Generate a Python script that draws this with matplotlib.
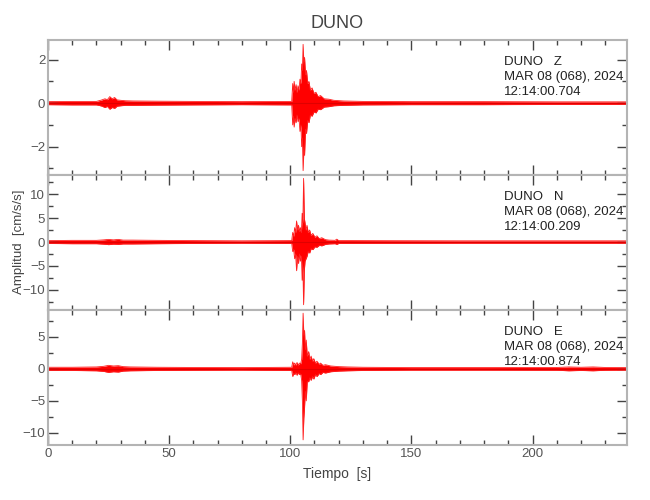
import matplotlib
matplotlib.use("Agg")
import matplotlib.pyplot as plt
from matplotlib.ticker import MultipleLocator

plt.rcParams['font.family'] = ['Liberation Sans', 'DejaVu Sans']

# envelope knots read from the record (time in s, amplitude in cm/s/s)
t_z = [0, 10, 20, 22, 23.5, 24.5, 25.5, 26.5, 27.5, 28.5, 30, 32, 35, 45, 60, 80, 100.6,
       101.0, 101.3, 101.6, 102.0, 102.4, 102.8, 103.2, 103.6, 104.0, 104.4, 104.7, 105.0,
       105.3, 105.6, 105.9, 106.3, 106.7, 107.2, 107.7, 108.3, 109.0, 109.8, 110.6, 111.5,
       112.5, 114, 116, 118, 122, 130, 150, 180, 210, 239]
up_z = [0.07, 0.08, 0.08, 0.14, 0.2, 0.16, 0.3, 0.2, 0.26, 0.15, 0.13, 0.11, 0.1, 0.09, 0.08, 0.07, 0.08,
        0.9, 0.5, 1.0, 0.6, 0.85, 0.5, 0.8, 0.6, 1.1, 0.9, 1.8, 1.5,
        2.7, 1.9, 2.1, 1.3, 1.5, 0.9, 1.0, 0.6, 0.7, 0.45, 0.5, 0.3,
        0.35, 0.2, 0.18, 0.13, 0.1, 0.08, 0.07, 0.07, 0.06, 0.06]
lo_z = [-0.07, -0.08, -0.08, -0.13, -0.2, -0.15, -0.28, -0.2, -0.24, -0.14, -0.12, -0.1, -0.1, -0.09, -0.08, -0.07, -0.08,
        -1.0, -0.6, -1.1, -0.7, -0.9, -0.55, -0.85, -0.7, -1.3, -1.0, -2.0, -1.6,
        -3.1, -2.2, -2.4, -1.2, -1.4, -0.8, -0.9, -0.55, -0.6, -0.4, -0.45, -0.28,
        -0.3, -0.18, -0.16, -0.12, -0.1, -0.08, -0.07, -0.07, -0.06, -0.06]

t_n = [0, 10, 20, 23, 25, 27, 29, 31, 35, 45, 60, 80, 100.6,
       101.0, 101.4, 101.8, 102.2, 102.6, 103.0, 103.4, 103.8, 104.2, 104.6, 104.9,
       105.2, 105.5, 105.8, 106.1, 106.5, 106.9, 107.4, 108.0, 108.6, 109.3, 110.2, 111,
       112, 113, 114.5, 116, 118.5, 119.2, 120, 125, 140, 170, 200, 239]
up_n = [0.3, 0.35, 0.35, 0.45, 0.55, 0.45, 0.55, 0.4, 0.4, 0.35, 0.3, 0.25, 0.3,
        2.0, 1.2, 3.0, 2.0, 4.4, 2.5, 3.5, 2.2, 3.0, 2.0, 6.0,
        4.0, 13.3, 5.0, 4.0, 2.5, 3.5, 2.0, 2.5, 1.4, 1.8, 1.0, 1.3,
        0.7, 0.9, 0.5, 0.4, 0.35, 0.6, 0.3, 0.3, 0.28, 0.25, 0.25, 0.25]
lo_n = [-0.3, -0.35, -0.35, -0.45, -0.55, -0.45, -0.5, -0.4, -0.4, -0.35, -0.3, -0.25, -0.3,
        -2.0, -1.5, -3.5, -2.5, -6.0, -3.0, -4.5, -2.5, -4.0, -3.0, -8.0,
        -5.0, -13.1, -6.0, -4.0, -3.5, -3.0, -2.0, -2.3, -1.4, -1.6, -1.0, -1.1,
        -0.7, -0.8, -0.5, -0.4, -0.35, -0.5, -0.3, -0.3, -0.28, -0.25, -0.25, -0.25]

t_e = [0, 10, 20, 23, 25, 27, 29, 31, 34, 45, 60, 80, 100.6,
       101.0, 101.4, 101.8, 102.3, 102.8, 103.3, 103.8, 104.3, 104.7, 105.0,
       105.3, 105.6, 105.9, 106.2, 106.6, 107.0, 107.6, 108.1, 108.6, 109.2, 109.7, 110.4, 111,
       112, 112.5, 113.5, 114.5, 116.7, 120, 123.6, 130, 150, 180, 210, 215, 220, 225, 230, 239]
up_e = [0.25, 0.25, 0.3, 0.4, 0.55, 0.45, 0.5, 0.35, 0.3, 0.25, 0.22, 0.2, 0.25,
        1.1, 0.6, 0.9, 0.6, 1.0, 0.6, 0.9, 0.8, 1.5, 4.0,
        8.7, 5.3, 6.0, 3.0, 4.5, 2.0, 2.7, 1.5, 2.0, 1.2, 1.6, 0.9, 1.2,
        0.7, 0.9, 0.55, 0.65, 0.45, 0.35, 0.3, 0.25, 0.2, 0.2, 0.22, 0.3, 0.25, 0.3, 0.22, 0.2]
lo_e = [-0.25, -0.25, -0.3, -0.4, -0.55, -0.45, -0.5, -0.35, -0.3, -0.25, -0.22, -0.2, -0.25,
        -1.2, -0.7, -0.9, -0.6, -1.0, -0.6, -0.9, -0.8, -1.8, -5.0,
        -11.1, -7.7, -6.0, -3.5, -5.0, -2.0, -2.0, -1.4, -1.8, -1.2, -1.6, -0.9, -1.2,
        -0.7, -0.9, -0.55, -0.65, -0.45, -0.35, -0.3, -0.25, -0.2, -0.2, -0.22, -0.3, -0.25, -0.3, -0.22, -0.2]

estacion = "DUNO"
canales = ["Z", "N", "E"]
fecha = "MAR 08 (068), 2024"
horas = ["12:14:00.704", "12:14:00.209", "12:14:00.874"]
limites = [(-3.3, 2.9), (-14.2, 14.0), (-11.9, 9.2)]
mayores = [2, 5, 5]
menores = [1, 2.5, 2.5]

trazas = [(t_z, up_z, lo_z), (t_n, up_n, lo_n), (t_e, up_e, lo_e)]

fig = plt.figure(figsize=(6.5, 5), dpi=100)
izq, der = 48 / 650, 627 / 650
bordes = [40, 175, 310, 445]  # filas de pixel de los bordes de panel
ejes = []
for i in range(3):
    y0 = 1 - bordes[i + 1] / 500
    alto = (bordes[i + 1] - bordes[i]) / 500
    ax = fig.add_axes([izq, y0, der - izq, alto])
    ejes.append(ax)

gris = '#b4b4b4'
for i, ax in enumerate(ejes):
    t, up, lo = trazas[i]
    ax.fill_between(t, lo, up, color='#ff0000', linewidth=0)
    ax.plot(t, up, color='#ff2020', linewidth=0.6)
    ax.plot(t, lo, color='#ff2020', linewidth=0.6)
    ax.axhline(0, color='#e00000', linewidth=0.8)
    ax.set_xlim(0, 239)
    ax.set_ylim(*limites[i])
    ax.xaxis.set_major_locator(MultipleLocator(50))
    ax.xaxis.set_minor_locator(MultipleLocator(10))
    ax.yaxis.set_major_locator(MultipleLocator(mayores[i]))
    ax.yaxis.set_minor_locator(MultipleLocator(menores[i]))
    ax.tick_params(which='both', direction='in', top=True, right=True,
                   color='#444444', width=1, labelsize=9.5, labelcolor='#555555', pad=2)
    ax.tick_params(which='major', length=7)
    ax.tick_params(which='minor', length=3.5)
    for s in ax.spines.values():
        s.set_color(gris)
        s.set_linewidth(1.5)
    if i < 2:
        ax.tick_params(labelbottom=False)
    ax.text(0.787, 0.726, f"{estacion}   {canales[i]}\n{fecha}\n{horas[i]}",
            transform=ax.transAxes, ha='left', va='center', fontsize=9.5,
            color='#222222', linespacing=1.3)

ejes[0].set_title(estacion, fontsize=13, color='#444444', pad=9)
ejes[2].set_xlabel("Tiempo  [s]", fontsize=10, color='#444444', labelpad=5)
fig.text(0.03, 1 - 242 / 500, "Amplitud  [cm/s/s]", rotation=90, ha='center',
         va='center', fontsize=9.5, color='#444444')

fig.savefig("out.png", dpi=100)
